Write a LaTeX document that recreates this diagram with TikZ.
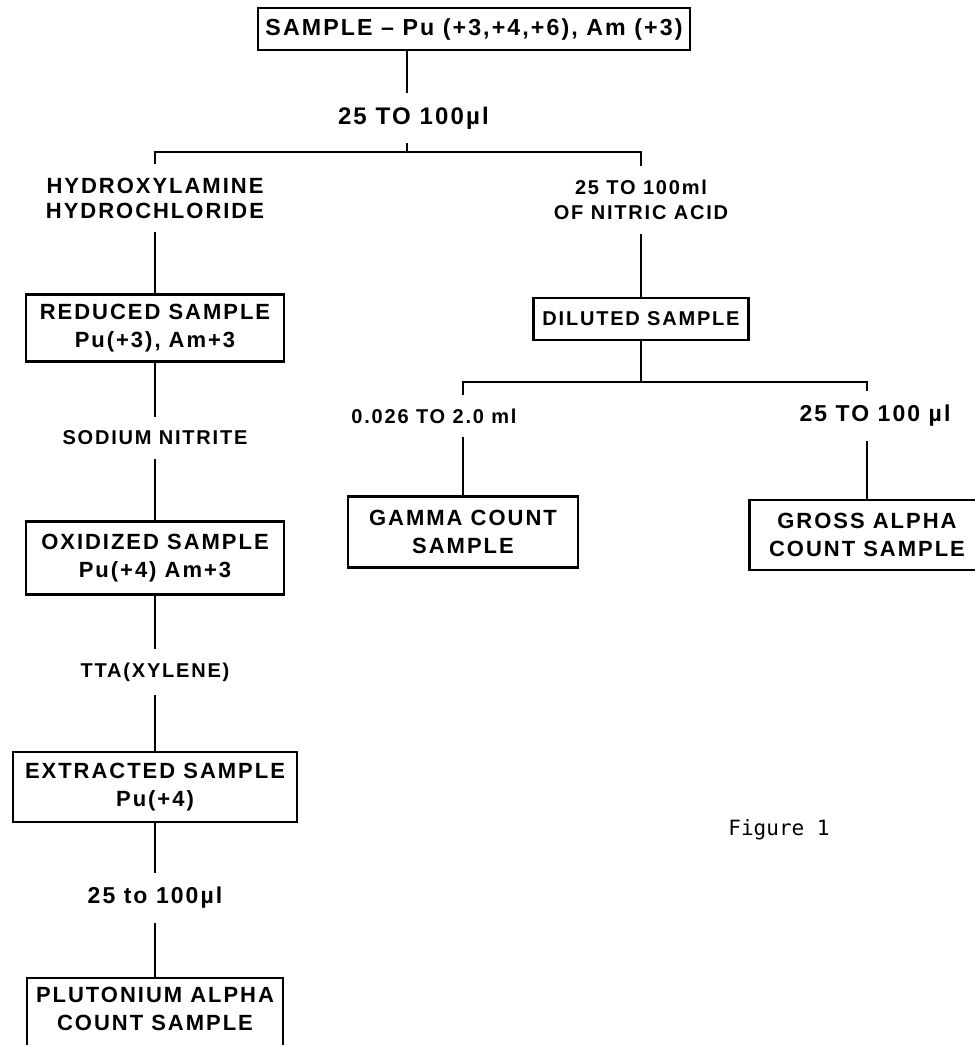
\documentclass[tikz,border=0pt]{standalone}
\usepackage{fontspec}
\setmainfont{Liberation Sans}[LetterSpace=9]
\newfontfamily\figfont{DejaVu Sans Mono}
\usetikzlibrary{positioning,calc}

\begin{document}
\begin{tikzpicture}[
    x=0.5pt, y=-0.5pt,
    box/.style={draw, line width=1.1pt, align=center, inner sep=2pt, font=\bfseries\fontsize{11}{14}\selectfont},
    reagent/.style={align=center, inner sep=1pt, outer sep=6pt, font=\bfseries\fontsize{10}{12.5}\selectfont},
    amount/.style={reagent, font=\bfseries\fontsize{12}{14}\selectfont},
    link/.style={line width=1.4pt},
]
\useasboundingbox (0,0) rectangle (975,1045);

% --- Top: starting sample ---
\node[box, minimum width=216pt, minimum height=21pt, font=\bfseries\fontsize{11.6}{14}\selectfont] (sample) at (474,29) {SAMPLE -- Pu (+3,+4,+6), Am (+3)};
\coordinate (split1) at (407,152);
\node[amount, anchor=west] (q1) at (324,118) {25 TO 100µl};

% --- Left branch: reduction, oxidation, extraction ---
\node[reagent, font=\bfseries\fontsize{11}{12.5}\selectfont] (hydro) at (155,198) {HYDROXYLAMINE\\HYDROCHLORIDE};
\node[box, minimum width=129pt, minimum height=33.5pt] (reduced) at (155,328) {REDUCED SAMPLE\\Pu(+3), Am+3};
\node[reagent] (sodium) at (155,438) {SODIUM NITRITE};
\node[box, minimum width=129pt, minimum height=36.5pt] (oxidized) at (155,558) {OXIDIZED SAMPLE\\Pu(+4) Am+3};
\node[reagent] (tta) at (155,672) {TTA(XYLENE)};
\node[box, minimum width=142pt, minimum height=35pt] (extracted) at (155,787) {EXTRACTED SAMPLE\\Pu(+4)};
\node[reagent, font=\bfseries\fontsize{11.5}{13}\selectfont] (q2) at (155,898) {25 to 100µl};
\node[box, minimum width=128pt, minimum height=45pt, text depth=14pt] (pualpha) at (155,1023) {PLUTONIUM ALPHA\\COUNT SAMPLE};

% --- Right branch: dilution and counting ---
\node[reagent] (nitric) at (641,200) {25 TO 100ml\\OF NITRIC ACID};
\node[box, minimum width=107.5pt, minimum height=21pt, font=\bfseries\fontsize{10}{14}\selectfont] (diluted) at (641,319) {DILUTED SAMPLE};
\coordinate (split2) at (641,382);
\node[reagent] (low) at (434,416) {0.026 TO 2.0 ml};
\node[reagent, font=\bfseries\fontsize{11.5}{13}\selectfont] (high) at (875,416) {25 TO 100 µl};
\node[box, minimum width=115pt, minimum height=35.5pt] (gamma) at (463,532) {GAMMA COUNT\\SAMPLE};
\node[box, minimum width=117.5pt, minimum height=35pt] (gross) at (867,535) {GROSS ALPHA\\COUNT SAMPLE};

\node[font=\figfont\fontsize{10.5}{12}\selectfont] (caption) at (779,830) {Figure 1};

% connectors
\draw[link] (sample.south -| split1) -- (q1.north -| split1);
\draw[link] (q1.south -| split1) -- (split1);
\draw[link] (hydro.north) |- (split1) -| (nitric.north);
\draw[link] (hydro) -- (reduced);
\draw[link] (reduced) -- (sodium);
\draw[link] (sodium) -- (oxidized);
\draw[link] (oxidized) -- (tta);
\draw[link] (tta) -- (extracted);
\draw[link] (extracted) -- (q2);
\draw[link] (q2) -- (pualpha);
\draw[link] (nitric) -- (diluted);
\draw[link] (diluted) -- (split2);
\draw[link] (low.north -| gamma) |- (split2) -| (high.north -| gross);
\draw[link] (low.south -| gamma) -- (gamma);
\draw[link] (high.south -| gross) -- (gross);

\end{tikzpicture}
\end{document}
